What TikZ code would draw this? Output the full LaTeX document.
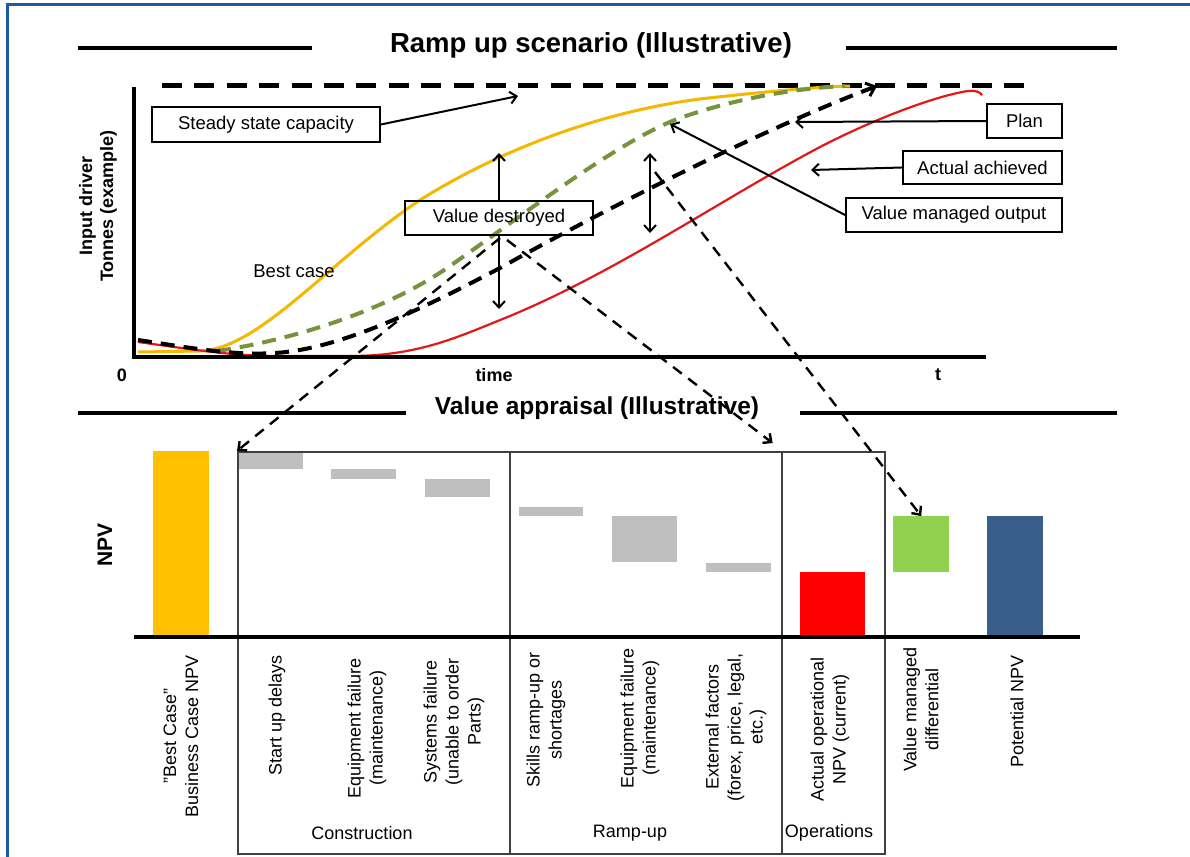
\documentclass[tikz,border=0pt]{standalone}
\usepackage{fontspec}
\setmainfont{Liberation Sans}
\usetikzlibrary{arrows.meta,calc}
\definecolor{frameblue}{HTML}{1C5AA6}
\definecolor{byel}{HTML}{FFC000}
\definecolor{cyel}{HTML}{F5B800}
\definecolor{bgrey}{HTML}{BFBFBF}
\definecolor{bred}{HTML}{FF0000}
\definecolor{cred}{HTML}{E01818}
\definecolor{bgreen}{HTML}{92D050}
\definecolor{cgreen}{HTML}{77933C}
\definecolor{bblue}{HTML}{385D8A}
\definecolor{secgrey}{HTML}{404040}
\begin{document}
\begin{tikzpicture}[x=1pt,y=-1pt,
  lbl/.style={draw=black, line width=1.8pt, fill=white, inner sep=0pt, font=\fontsize{18.5}{21}\selectfont},
  arr/.style={line width=2pt, -{Straight Barb[length=6.5pt,width=12pt]}},
  darr/.style={line width=2pt, {Straight Barb[length=6.5pt,width=12pt]}-{Straight Barb[length=6.5pt,width=12pt]}},
  dconn/.style={line width=2.4pt, dash pattern=on 11pt off 8pt, -{Straight Barb[length=6.5pt,width=12pt]}},
  rule/.style={line width=4pt},
  steady/.style={line width=5pt, dash pattern=on 20pt off 12.4pt},
  sec/.style={draw=secgrey, line width=2pt, inner sep=0pt, anchor=north west},
  bar/.style={draw=none, inner sep=0pt, anchor=north west},
  blab/.style={font=\fontsize{18}{22}\selectfont, align=center, inner sep=0pt},
  rlab/.style={font=\fontsize{18}{22}\selectfont, align=center, inner sep=0pt, rotate=90, anchor=east},
  bold/.style={font=\bfseries\fontsize{18}{21}\selectfont, inner sep=0pt}
]
\useasboundingbox (0,0) rectangle (1190,856);
\fill[white] (0,0) rectangle (1190,856);
\draw[frameblue, line width=3pt] (7,858) -- (7,5) -- (1192,5);

% ---------- top section ----------
\node[font=\bfseries\fontsize{27.5}{30}\selectfont, inner sep=0pt] (t1) at (591,45) {Ramp up scenario (Illustrative)};
\coordinate (t1a) at (78,48); \coordinate (t1b) at (312,48);
\coordinate (t1c) at (846,48); \coordinate (t1d) at (1117,48);
\draw[rule] (t1a) -- (t1b); \draw[rule] (t1c) -- (t1d);

% steady state line
\coordinate (ss1) at (162,86); \coordinate (ss2) at (1035,86);
\draw[steady] (ss1) -- (ss2);

% curves
\draw[cyel, line width=3pt] (138,352) -- (200,351)
  .. controls (260,349) and (330,260) .. (420,200)
  .. controls (500,150) and (600,112) .. (700,99)
  .. controls (780,90) and (820,87) .. (850,86);
\draw[cgreen, line width=4pt, dash pattern=on 14pt off 9pt] (217,351)
  .. controls (280,342) and (380,315) .. (450,266)
  .. controls (530,210) and (620,140) .. (680,118)
  .. controls (740,97) and (800,88) .. (845,86);
\draw[cred, line width=2.2pt] (138,342)
  .. controls (190,349) and (230,356) .. (280,356) -- (350,356)
  .. controls (420,356) and (460,336) .. (510,316)
  .. controls (620,270) and (720,200) .. (820,147)
  .. controls (880,116) and (940,95) .. (968,91)
  .. controls (975,90) and (980,92) .. (982,95);
\draw[black, line width=4pt, dash pattern=on 14pt off 9pt, -{Straight Barb[length=8pt,width=14pt,line width=3pt]}] (138,340)
  .. controls (180,346) and (230,356) .. (275,353)
  .. controls (340,349) and (420,310) .. (500,268)
  .. controls (600,212) and (760,130) .. (877,86);

% axes
\coordinate (ytop) at (134,87); \coordinate (orig) at (134,357); \coordinate (xend) at (986,357);
\draw[line width=4pt] (ytop) -- (orig) -- (xend);
\node[bold] (zero) at (122,375) {0};
\node[bold] (time) at (494,375) {time};
\node[bold] (tt) at (938,375) {t};
\node[bold, rotate=90, align=center, font=\bfseries\fontsize{18}{21}\selectfont] (ylab) at (98,206) {Input driver\\Tonnes (example)};
\node[font=\fontsize{18.5}{21}\selectfont, inner sep=0pt] (best) at (294,271) {Best case};

% label boxes
\node[lbl, minimum width=228pt, minimum height=35pt] (ssc) at (266,124.5) {Steady state capacity};
\node[lbl, fill=none, minimum width=188pt, minimum height=34pt] (vd) at (499,218) {Value destroyed};
\node[lbl, minimum width=75pt, minimum height=34pt] (plan) at (1024.5,121) {Plan};
\node[lbl, minimum width=159pt, minimum height=33pt] (act) at (982.5,167.5) {Actual achieved};
\node[lbl, minimum width=216pt, minimum height=34pt] (vmo) at (954,215) {Value managed output};

% label arrows
\coordinate (ssT) at (518,96); \draw[arr] (ssc.east) -- (ssT);
\coordinate (planT) at (795,122); \draw[arr] (plan.west) -- (planT);
\coordinate (actT) at (811,170); \draw[arr] (act.west) -- (actT);
\coordinate (vmoT) at (670,124); \draw[arr] (vmo.west) -- (vmoT);

% value destroyed arrows
\coordinate (vdup) at (499,153); \coordinate (vddn) at (499,309);
\draw[arr] (vd.north) -- (vdup);
\draw[arr] (vd.south) -- (vddn);
\coordinate (d2t) at (650,153); \coordinate (d2b) at (650,233);
\draw[darr] (d2t) -- (d2b);

% ---------- bottom section ----------
\node[font=\bfseries\fontsize{24.5}{27}\selectfont, inner sep=0pt] (t2) at (597,408) {Value appraisal (Illustrative)};
\coordinate (t2a) at (78,413); \coordinate (t2b) at (406,413);
\coordinate (t2c) at (800,413); \coordinate (t2d) at (1117,413);
\draw[rule] (t2a) -- (t2b); \draw[rule] (t2c) -- (t2d);

\node[font=\bfseries\fontsize{21}{24}\selectfont, inner sep=0pt, rotate=90] (npv) at (105,545) {NPV};

% section boxes
\node[sec, minimum width=272pt, minimum height=402pt] (cons) at (237,451) {};
\node[sec, minimum width=272pt, minimum height=402pt] (ramp) at (509,451) {};
\node[sec, minimum width=103pt, minimum height=402pt] (ops) at (781,451) {};

% bars
\node[bar, fill=byel, minimum width=56pt, minimum height=185pt] (b0) at (153,451) {};
\node[bar, fill=bgrey, minimum width=64pt, minimum height=16pt] (g1) at (239,453) {};
\node[bar, fill=bgrey, minimum width=65pt, minimum height=10pt] (g2) at (331,469) {};
\node[bar, fill=bgrey, minimum width=65pt, minimum height=18pt] (g3) at (425,479) {};
\node[bar, fill=bgrey, minimum width=64pt, minimum height=9pt] (g4) at (519,507) {};
\node[bar, fill=bgrey, minimum width=65pt, minimum height=46pt] (g5) at (612,516) {};
\node[bar, fill=bgrey, minimum width=65pt, minimum height=9pt] (g6) at (706,563) {};
\node[bar, fill=bred, minimum width=65pt, minimum height=64pt] (rb) at (800,572) {};
\node[bar, fill=bgreen, minimum width=56pt, minimum height=56pt] (gb) at (893,516) {};
\node[bar, fill=bblue, minimum width=56pt, minimum height=120pt] (bb) at (987,516) {};

% baseline
\coordinate (bl1) at (134,637); \coordinate (bl2) at (1080,637);
\draw[line width=4pt] (bl1) -- (bl2);

% rotated labels
\node[rlab] (l0) at (181,655) {\symbol{34}Best Case\symbol{34}\\Business Case NPV};
\node[rlab] (l1) at (277,655) {Start up delays};
\node[rlab] (l2) at (367,658) {Equipment failure\\(maintenance)};
\node[rlab] (l3) at (454,658) {Systems failure\\(unable to order\\Parts)};
\node[rlab] (l4) at (546,652) {Skills ramp-up or\\shortages};
\node[rlab] (l5) at (640,648) {Equipment failure\\(maintenance)};
\node[rlab] (l6) at (736,653) {External factors\\(forex, price, legal,\\etc.)};
\node[rlab] (l7) at (830,657) {Actual operational\\NPV (current)};
\node[rlab] (l8) at (921,647) {Value managed\\differential};
\node[rlab] (l9) at (1017,655) {Potential NPV};

\node[blab] (lc) at (362,833) {Construction};
\node[blab] (lr) at (630,833) {Ramp-up};
\node[blab] (lo) at (829,833) {Operations};

% dashed connectors
\coordinate (c1s) at (500,238);
\coordinate (c2s) at (507,240);
\coordinate (c3s) at (655,172);
\draw[dconn] (c1s) -- (cons.north west);
\draw[dconn, shorten >=13pt] (c2s) -- (ramp.north east);
\draw[dconn] (c3s) -- (gb.north);
\end{tikzpicture}
\end{document}
